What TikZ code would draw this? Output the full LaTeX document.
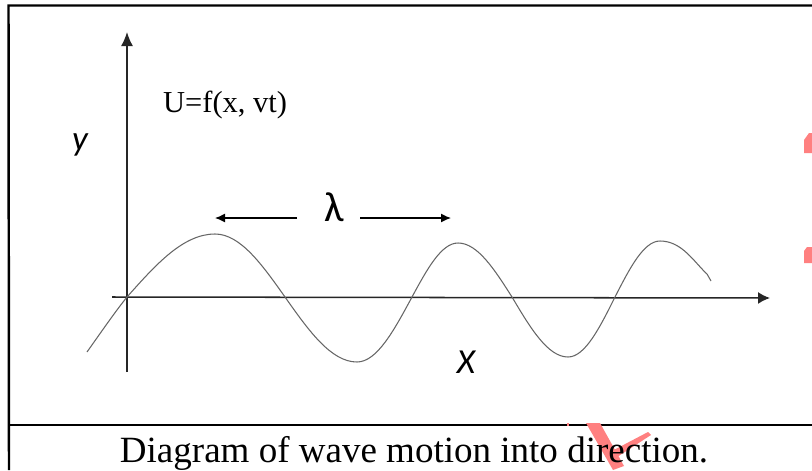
\documentclass[tikz,border=0pt]{standalone}
\usepackage{fontspec}
\setmainfont{Liberation Serif}
\newfontfamily\calfont{Carlito}
\usepackage{tikz}
\usetikzlibrary{positioning,arrows.meta}

\begin{document}
\begin{tikzpicture}[
    x=0.03cm, y=-0.03cm,
    >=Latex,
    frame/.style={
        draw=black, line width=2.1pt
    },
    axis/.style={
        draw=black!85, line width=1.3pt
    },
    wave/.style={
        draw=black!60, line width=0.9pt
    },
    lamarrow/.style={
        draw=black, line width=1.1pt,
        -{Latex[length=0.30cm, width=0.27cm]}
    },
    axlabel/.style={
        font=\calfont\itshape\fontsize{30}{30}\selectfont,
        inner sep=0pt, anchor=base
    },
    eqlabel/.style={
        font=\fontsize{26}{26}\selectfont,
        inner sep=0pt, anchor=base west
    },
    caption/.style={
        font=\fontsize{31.6}{31.6}\selectfont,
        inner sep=0pt, anchor=base
    },
    smudge/.style={
        fill=red!50, draw=none
    }
]

\useasboundingbox (0,0) rectangle (812,470);

% frame and caption rule
\coordinate (fTL) at (8.5,5.5);
\coordinate (fTR) at (812,5.5);
\coordinate (fBL) at (9,470);
\coordinate (rL) at (9,425);
\coordinate (rR) at (812,425);
\draw[frame] (fTR) -- (fTL) -- (fBL);
\draw[frame] (rL) -- (rR);

% axes
\coordinate (o) at (127,297);
\coordinate (yBot) at (127,372);
\coordinate (yTop) at (127,32);
\coordinate (xLeft) at (112,297);
\coordinate (xRight) at (770,298);
\draw[axis, -{Latex[length=0.42cm, width=0.36cm]}] (yBot) -- (yTop);
\draw[axis, -{Latex[length=0.36cm, width=0.36cm]}] (xLeft) -- (xRight);

% the wave
\coordinate (w0) at (87,352);
\coordinate (wEnd) at (711,281);
\draw[wave] (w0) .. controls (104,328) and (115,312) .. (o)
    sin (215,234) cos (285,297) sin (357,362) cos (412,297)
    sin (458,243) cos (512,297) sin (568,357) cos (615,297)
    sin (660,241) .. controls (682,241) and (694,262) .. (707,274)
    -- (wEnd);

% labels
\node[axlabel] (ylab) at (80,150) {y};
\node[axlabel] (xlab) at (466,373) {X};
\node[eqlabel] (eq) at (163,112) {U=f(x, vt)};
\node[axlabel, font=\calfont\fontsize{36}{36}\selectfont] (lam) at (334,221) {λ};

\coordinate (lamL0) at (297,218);
\coordinate (lamL) at (215,218);
\coordinate (lamR0) at (360,218);
\coordinate (lamR) at (451,218);
\draw[lamarrow] (lamL0) -- (lamL);
\draw[lamarrow] (lamR0) -- (lamR);

% stray marks of the scan
\fill[smudge] (804,140) -- (809,133) -- (812,133) -- (812,153) -- (804,153) -- cycle;
\fill[smudge] (804,251) -- (807,247) -- (812,247) -- (812,263) -- (804,263) -- cycle;
\fill[smudge] (586,423) -- (600,423) -- (624,466) -- (613,470) -- cycle;
\fill[smudge] (610,452) -- (648,432) -- (651,435) -- (614,459) -- cycle;
\fill[smudge] (567,423) rectangle (569,426);

\node[caption] (cap) at (414,462) {Diagram of wave motion into direction.};

\end{tikzpicture}
\end{document}
